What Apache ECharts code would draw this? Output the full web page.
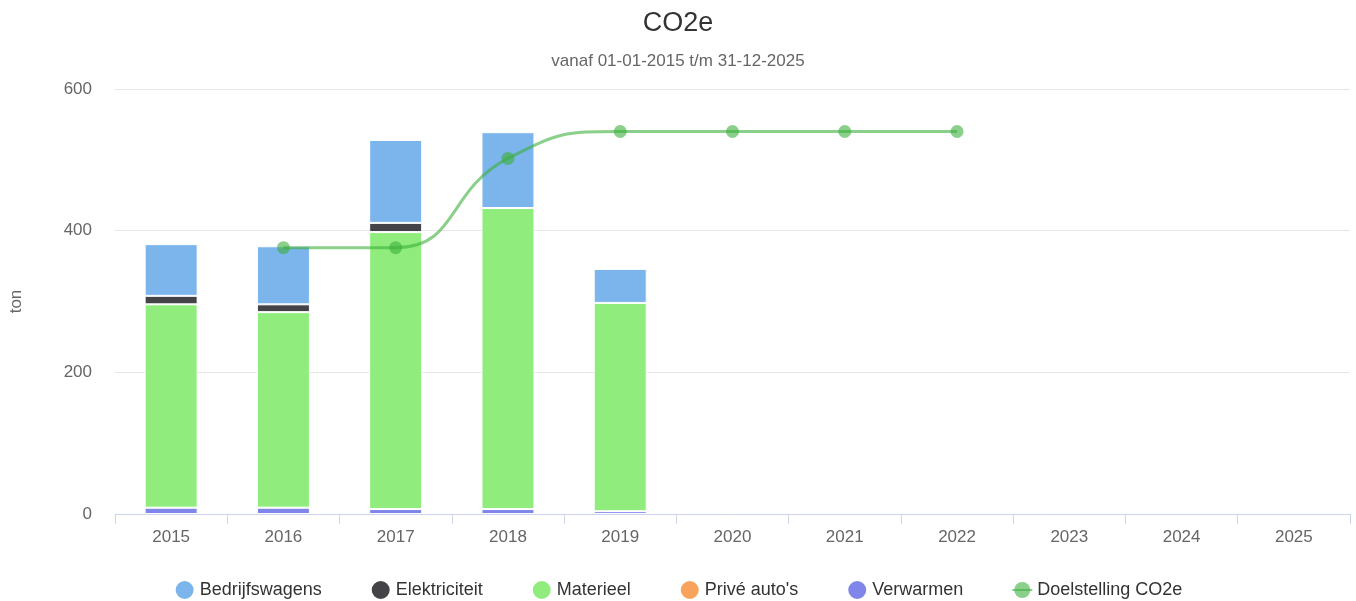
<!DOCTYPE html>
<html>
<head>
<meta charset="utf-8">
<script src="https://cdn.jsdelivr.net/npm/echarts@6/dist/echarts.min.js"></script>
<style>
  html, body { margin: 0; padding: 0; background: #fff; }
  #chart { width: 1356px; height: 601px; }
</style>
</head>
<body>
<div id="chart"></div>
<script>
// years on the x axis
var years = ['2015', '2016', '2017', '2018', '2019', '2020', '2021', '2022', '2023', '2024', '2025'];

// stacked emissions per source (ton)
var verwarmen      = [9, 9, 7, 7, 4, null, null, null, null, null, null];
var priveAutos     = [0, 0, 0, 0, 0, null, null, null, null, null, null];
var materieel      = [287, 276, 391, 425, 294, null, null, null, null, null, null];
var elektriciteit  = [12, 11, 13, 0, 0, null, null, null, null, null, null];
var bedrijfswagens = [73, 82, 117, 107, 48, null, null, null, null, null, null];

// target line
var doelstelling = [null, 376, 376, 502, 540, 540, 540, 540, null, null, null];

var chart = echarts.init(document.getElementById('chart'));
var font = 'Liberation Sans, Arial, sans-serif';

function barSeries(name, data, color) {
  return {
    name: name,
    type: 'bar',
    stack: 'co2',
    barWidth: 53,
    data: data,
    itemStyle: { color: color, borderColor: '#fff', borderWidth: 1 },
    emphasis: { disabled: true }
  };
}

var option = {
  animation: false,
  textStyle: { fontFamily: font },
  title: {
    text: 'CO2e',
    subtext: 'vanaf 01-01-2015 t/m 31-12-2025',
    left: 'center',
    top: 5,
    itemGap: 16,
    textStyle: { fontSize: 27, fontWeight: 'normal', color: '#333', fontFamily: font },
    subtextStyle: { fontSize: 17, color: '#666', fontFamily: font }
  },
  legend: {
    top: 574,
    left: 'center',
    itemGap: 48,
    itemWidth: 20,
    itemHeight: 20,
    textStyle: { fontSize: 18, color: '#333', fontFamily: font },
    data: [
      { name: 'Bedrijfswagens', icon: 'circle' },
      { name: 'Elektriciteit', icon: 'circle' },
      { name: 'Materieel', icon: 'circle' },
      { name: "Privé auto's", icon: 'circle' },
      { name: 'Verwarmen', icon: 'circle' },
      { name: 'Doelstelling CO2e', itemWidth: 30 }
    ]
  },
  grid: { left: 115, right: 6, top: 89, bottom: 87 },
  xAxis: {
    type: 'category',
    data: years,
    axisLine: { lineStyle: { color: '#ccd6eb', width: 1 } },
    axisTick: { show: true, length: 10, lineStyle: { color: '#ccd6eb' } },
    axisLabel: { color: '#666', fontSize: 17, margin: 15 }
  },
  yAxis: {
    type: 'value',
    min: 0,
    max: 600,
    interval: 200,
    name: 'ton',
    nameLocation: 'middle',
    nameGap: 90,
    nameTextStyle: { color: '#666', fontSize: 17 },
    axisLabel: { color: '#666', fontSize: 17, margin: 23 },
    splitLine: { lineStyle: { color: '#e6e6e6' } }
  },
  series: [
    barSeries('Verwarmen', verwarmen, '#8085e9'),
    barSeries("Privé auto's", priveAutos, '#f7a35c'),
    barSeries('Materieel', materieel, '#90ed7d'),
    barSeries('Elektriciteit', elektriciteit, '#434348'),
    barSeries('Bedrijfswagens', bedrijfswagens, '#7cb5ec'),
    {
      name: 'Doelstelling CO2e',
      type: 'line',
      data: doelstelling,
      smooth: 0.5,
      symbol: 'circle',
      symbolSize: 13,
      color: 'rgba(60,175,60,0.6)',
      lineStyle: { width: 3, color: 'rgba(60,175,60,0.6)' },
      itemStyle: { color: 'rgba(60,175,60,0.6)' },
      emphasis: { disabled: true },
      z: 5
    }
  ]
};

chart.setOption(option);
</script>
</body>
</html>
